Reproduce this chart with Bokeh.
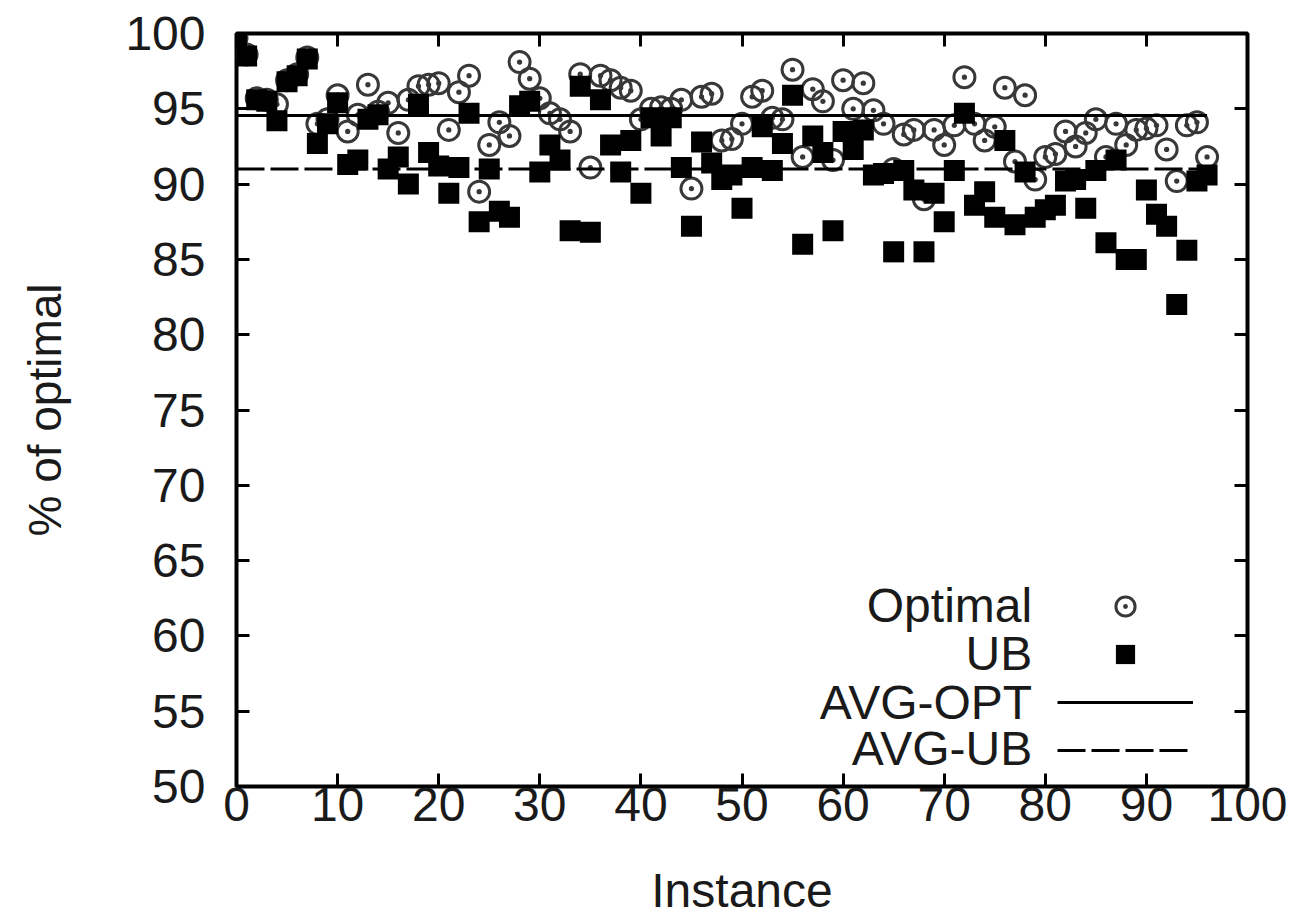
from bokeh.plotting import figure
from bokeh.models import Range1d, LinearAxis, FixedTicker, Legend, LegendItem, Label
from bokeh.embed import file_html
from bokeh.resources import INLINE

# ---------------- data ----------------
instances = list(range(97))

optimal = [99.7, 98.6, 95.7, 95.6, 95.3, 96.9, 97.3, 98.4, 94.0, 94.3,
           95.9, 93.5, 94.6, 96.6, 94.8, 95.4, 93.4, 95.6, 96.5, 96.6,
           96.7, 93.6, 96.1, 97.2, 89.5, 92.6, 94.1, 93.2, 98.1, 97.0,
           95.7, 94.7, 94.3, 93.5, 97.3, 91.1, 97.2, 96.9, 96.4, 96.2,
           94.3, 95.0, 95.1, 95.0, 95.6, 89.7, 95.8, 96.0, 92.9, 93.0,
           94.0, 95.8, 96.2, 94.4, 94.3, 97.6, 91.8, 96.3, 95.5, 91.6,
           96.9, 95.0, 96.7, 94.9, 94.0, 91.0, 93.3, 93.6, 89.0, 93.6,
           92.6, 93.9, 97.1, 94.0, 92.9, 93.8, 96.4, 91.5, 95.9, 90.3,
           91.8, 92.0, 93.5, 92.5, 93.4, 94.3, 91.8, 94.0, 92.6, 93.6,
           93.7, 93.9, 92.3, 90.2, 93.9, 94.1, 91.8]

ub = [99.6, 98.5, 95.6, 95.5, 94.2, 96.8, 97.2, 98.3, 92.7, 94.0,
      95.4, 91.3, 91.6, 94.3, 94.6, 91.0, 91.8, 90.0, 95.3, 92.1,
      91.2, 89.4, 91.1, 94.7, 87.5, 91.0, 88.2, 87.8, 95.2, 95.5,
      90.8, 92.6, 91.6, 86.9, 96.5, 86.8, 95.6, 92.6, 90.8, 92.9,
      89.4, 94.4, 93.2, 94.4, 91.1, 87.2, 92.8, 91.4, 90.3, 90.6,
      88.4, 91.1, 93.8, 90.9, 92.7, 95.9, 86.0, 93.2, 92.1, 86.9,
      93.5, 92.3, 93.6, 90.6, 90.7, 85.5, 90.9, 89.6, 85.5, 89.4,
      87.5, 90.9, 94.7, 88.6, 89.5, 87.8, 92.9, 87.3, 90.8, 87.8,
      88.3, 88.6, 90.2, 90.3, 88.4, 90.9, 86.1, 91.6, 85.0, 85.0,
      89.6, 88.0, 87.2, 82.0, 85.6, 90.2, 90.6]

avg_opt = 94.55
avg_ub = 91.0

x_ticks = list(range(0, 101, 10))
y_ticks = list(range(50, 101, 5))
series_names = ["Optimal", "UB", "AVG-OPT", "AVG-UB"]

FONT = "Liberation Sans"
TXT = "#1a1a1a"
FS = "48px"

p = figure(width=1293, height=924, x_range=Range1d(0, 100), y_range=Range1d(50, 100),
           output_backend="svg", toolbar_location=None,
           min_border_left=236, min_border_right=46, min_border_top=33, min_border_bottom=138)
p.background_fill_color = "white"
p.border_fill_color = "white"
p.outline_line_color = "black"
p.outline_line_width = 4
p.grid.visible = False

def style_axis(ax, labels=True, standoff=0):
    ax.axis_line_color = None
    ax.major_tick_in = 13
    ax.major_tick_out = 0
    ax.major_tick_line_width = 3
    ax.major_tick_line_color = "black"
    ax.minor_tick_line_color = None
    if labels:
        ax.major_label_text_font = FONT
        ax.major_label_text_font_size = FS
        ax.major_label_text_color = TXT
        ax.major_label_standoff = standoff
    else:
        ax.major_label_overrides = {t: "" for t in ax.ticker.ticks}
        ax.major_label_standoff = 0

xa = p.xaxis[0]
xa.ticker = FixedTicker(ticks=x_ticks)
style_axis(xa, True, 1)
xa.axis_label = "Instance"
xa.axis_label_text_font = FONT
xa.axis_label_text_font_size = FS
xa.axis_label_text_font_style = "normal"
xa.axis_label_text_color = TXT
xa.axis_label_standoff = 40

ya = p.yaxis[0]
ya.ticker = FixedTicker(ticks=y_ticks)
style_axis(ya, True, 31)
ya.axis_label = "% of optimal"
ya.axis_label_text_font = FONT
ya.axis_label_text_font_size = "46px"
ya.axis_label_text_font_style = "normal"
ya.axis_label_text_color = TXT
ya.axis_label_standoff = 51

top = LinearAxis(ticker=FixedTicker(ticks=x_ticks))
style_axis(top, False)
p.add_layout(top, "above")
right = LinearAxis(ticker=FixedTicker(ticks=y_ticks))
style_axis(right, False)
p.add_layout(right, "right")

r_opt = p.scatter(instances, optimal, marker="circle_dot", size=21,
                  line_color="#383838", line_width=3, fill_alpha=0)
r_ub = p.scatter(instances, ub, marker="square", size=21,
                 line_color="black", fill_color="black", line_width=0)
r_ao = p.line([instances[0], instances[-1]], [avg_opt, avg_opt],
              line_color="black", line_width=3)
r_au = p.line([instances[0], instances[-1]], [avg_ub, avg_ub],
              line_color="black", line_width=3, line_dash="28 6")

legend = Legend(items=[LegendItem(label=" ", renderers=[r]) for r in (r_opt, r_ub, r_ao, r_au)],
                location="bottom_right", orientation="vertical",
                glyph_width=136, glyph_height=48, spacing=0, padding=43, margin=12,
                label_standoff=42, label_width=0, label_height=0,
                label_text_font_size="1px",
                border_line_color=None, background_fill_alpha=0)
p.add_layout(legend)

leg_y = [62.0, 58.8, 55.6, 52.5]
for name, yy in zip(series_names, leg_y):
    p.add_layout(Label(x=78.7, y=yy, text=name, text_align="right", text_baseline="middle",
                       text_font=FONT, text_font_size=FS, text_color=TXT))

open("out.html", "w").write(file_html(p, INLINE))
